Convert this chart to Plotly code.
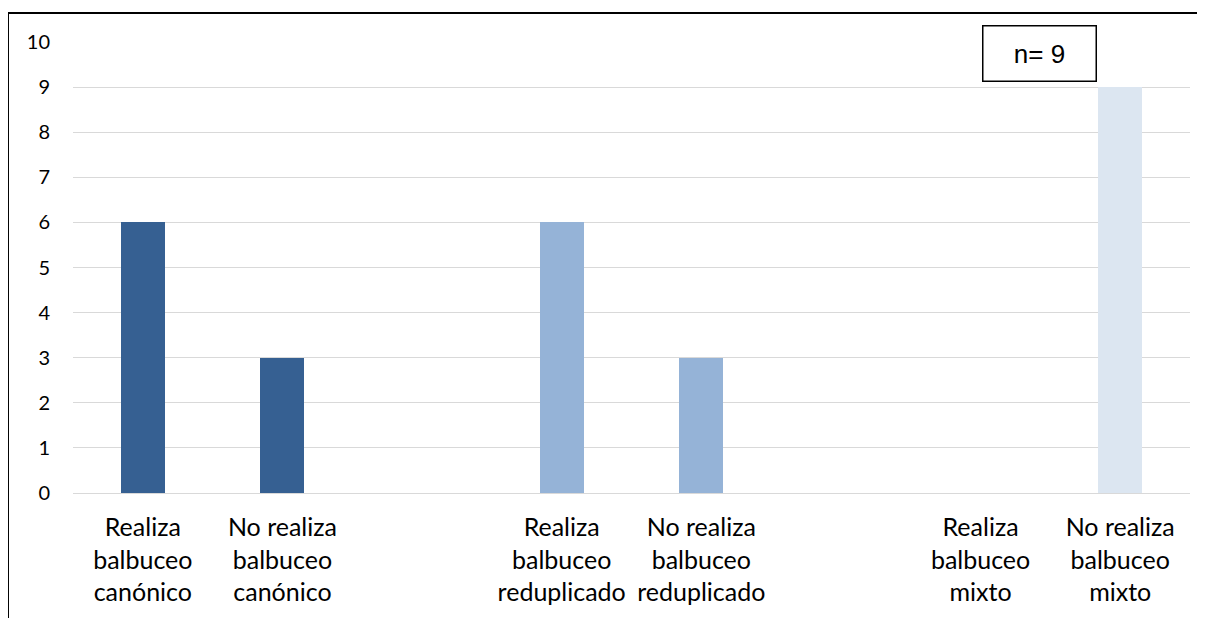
import plotly.graph_objects as go

categories = ["Realiza<br>balbuceo<br>canónico", "No realiza<br>balbuceo<br>canónico", "",
              "Realiza<br>balbuceo<br>reduplicado", "No realiza<br>balbuceo<br>reduplicado", "",
              "Realiza<br>balbuceo<br>mixto", "No realiza<br>balbuceo<br>mixto"]
positions = [0, 1, 3, 4, 6, 7]
values = [6, 3, 6, 3, 0, 9]
colors = ["#366092", "#366092", "#95B3D7", "#95B3D7", "#DCE6F1", "#DCE6F1"]

fig = go.Figure()
fig.add_trace(go.Bar(x=positions, y=values, marker=dict(color=colors, line=dict(width=0)),
                     width=0.315, showlegend=False))

fig.update_layout(
    width=1197, height=610,
    margin=dict(l=65, r=15, t=34, b=125),
    plot_bgcolor="white", paper_bgcolor="white",
    font=dict(family="Lato, Open Sans, sans-serif", color="#000000"),
    xaxis=dict(range=[-0.5, 7.5], tickmode="array", tickvals=list(range(8)), ticktext=categories,
               showgrid=False, zeroline=False, showline=False, ticks="",
               tickfont=dict(size=25, family="Lato, sans-serif"), ticklabelstandoff=17),
    yaxis=dict(range=[0, 10], dtick=1, showgrid=True, gridcolor="#D9D9D9", gridwidth=1,
               zeroline=True, zerolinecolor="#D9D9D9", zerolinewidth=1, showline=False,
               ticks="", ticklabelstandoff=22,
               tickfont=dict(size=20, family="Lato, sans-serif")),
    bargap=0,
)

# Figure border (top and left)
fig.add_shape(type="line", xref="paper", yref="paper", x0=-0.0582, y0=-0.35, x1=-0.0582, y1=1.0643,
              line=dict(color="black", width=2))
fig.add_shape(type="line", xref="paper", yref="paper", x0=-0.0582, y0=1.0643, x1=1.03, y1=1.0643,
              line=dict(color="black", width=2))

fig.add_annotation(xref="paper", yref="paper", x=0.8657, y=0.9734, text="n= 9", showarrow=False,
                   font=dict(family="Arial, Liberation Sans", size=26, color="black"),
                   bordercolor="black", borderwidth=1.5, bgcolor="white", width=112, height=54,
                   borderpad=0, xanchor="center", yanchor="middle")

fig.write_html("out.html")
